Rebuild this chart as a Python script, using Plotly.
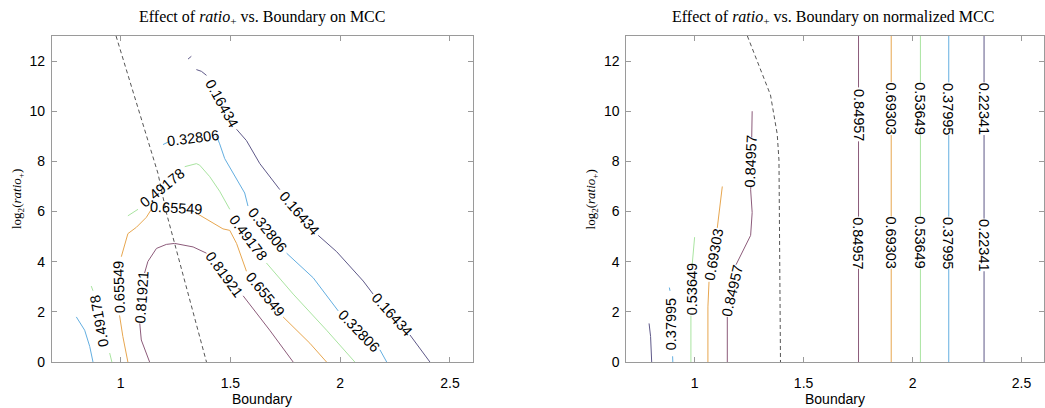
import plotly.graph_objects as go

# ---------------- data ----------------
# Left panel: MCC contours, each a list of segments (broken where MATLAB put labels)
mcc_levels = ["0.16434", "0.32806", "0.49178", "0.65549", "0.81921"]

mcc_016_x = [[1.345, 1.368, 1.391], [1.528, 1.573, 1.634, 1.725], [1.900, 1.984, 2.105, 2.150], [2.318, 2.409], [1.307, 1.322]]
mcc_016_y = [[11.66, 11.59, 11.43], [9.28, 8.83, 7.91, 6.875], [5.05, 4.40, 3.23, 2.71], [1.08, 0.0], [12.08, 12.19]]
mcc_016_lab = [(1.460, 10.33, 61), (1.812, 5.93, 49), (2.234, 1.91, 48)]

mcc_033_x = [[1.193, 1.223], [1.436, 1.451, 1.474, 1.512, 1.565, 1.580], [1.756, 1.877, 1.991], [2.181, 2.212],
             [0.798, 0.836, 0.859, 0.874]]
mcc_033_y = [[8.67, 8.80], [9.02, 8.70, 8.11, 7.52, 6.74, 6.22], [4.34, 3.36, 2.04], [0.49, 0.0],
             [1.80, 1.27, 0.625, 0.0]]
mcc_033_lab = [(1.330, 8.92, -7), (1.668, 5.25, 51), (2.086, 1.25, 46)]

mcc_049_x = [[1.033, 1.079], [1.292, 1.345, 1.360, 1.406, 1.451, 1.497], [1.664, 1.786, 1.938, 2.067],
             [0.866, 0.874], [0.950, 0.960]]
mcc_049_y = [[5.83, 6.09], [7.79, 7.91, 7.85, 7.39, 6.81, 6.09], [3.95, 2.71, 1.27, 0.0],
             [3.03, 2.84], [0.36, 0.0]]
mcc_049_lab = [(1.188, 6.95, -39), (1.582, 4.95, 53), (0.905, 1.62, -100)]

mcc_066_x = [[1.033, 1.010, 0.995], [1.003, 1.033, 1.072, 1.117, 1.140], [1.352, 1.466, 1.497, 1.528, 1.573],
             [1.740, 1.862, 1.938]]
mcc_066_y = [[0.0, 1.02, 1.86], [4.20, 5.12, 5.375, 5.77, 6.09], [5.90, 5.31, 5.25, 4.73, 3.62],
             [1.80, 0.75, 0.0]]
mcc_066_lab = [(0.993, 2.99, -92), (1.250, 6.15, 3), (1.657, 2.70, 51)]

mcc_082_x = [[1.132, 1.094, 1.087], [1.109, 1.124, 1.163, 1.208, 1.246, 1.330, 1.391], [1.558, 1.679, 1.786]]
mcc_082_y = [[0.0, 0.88, 1.54], [3.55, 4.01, 4.53, 4.69, 4.73, 4.59, 4.34], [2.64, 1.27, 0.0]]
mcc_082_lab = [(1.098, 2.58, -86), (1.470, 3.50, 54)]

mcc_dash_x = [0.979, 1.075, 1.170, 1.208, 1.246, 1.320, 1.391]
mcc_dash_y = [13.0, 10.25, 7.52, 5.96, 4.73, 2.40, 0.0]

# Right panel: normalized MCC contours
norm_levels = ["0.22341", "0.37995", "0.53649", "0.69303", "0.84957"]

norm_022_x = [[0.791, 0.798, 0.803], [2.328, 2.328], [2.328, 2.328], [2.328, 2.328]]
norm_022_y = [[1.54, 1.02, 0.0], [0.0, 3.62], [5.72, 9.05], [11.15, 13.0]]
norm_022_lab = [(2.328, 10.10, 90), (2.328, 4.66, 90)]

norm_038_x = [[0.884, 0.887], [0.899, 0.900], [2.166, 2.166], [2.166, 2.166], [2.166, 2.166]]
norm_038_y = [[2.97, 2.84], [0.23, 0.0], [0.0, 3.72], [5.80, 9.05], [11.15, 13.0]]
norm_038_lab = [(0.893, 1.52, -90), (2.166, 10.10, 90), (2.166, 4.76, 90)]

norm_054_x = [[1.000, 0.989], [0.983, 0.983], [2.036, 2.036], [2.036, 2.036], [2.036, 2.036]]
norm_054_y = [[4.98, 3.90], [1.85, 0.0], [0.0, 3.72], [5.80, 9.05], [11.15, 13.0]]
norm_054_lab = [(0.988, 2.90, -90), (2.036, 10.10, 90), (2.036, 4.76, 90)]

norm_069_x = [[1.127, 1.112, 1.104], [1.066, 1.061, 1.061], [1.902, 1.902], [1.902, 1.902], [1.902, 1.902]]
norm_069_y = [[7.00, 5.96, 5.35], [3.20, 2.20, 0.0], [0.0, 3.72], [5.80, 9.05], [11.15, 13.0]]
norm_069_lab = [(1.088, 4.27, -80), (1.902, 10.10, 90), (1.902, 4.76, 90)]

norm_085_x = [[1.264, 1.262], [1.258, 1.257, 1.264, 1.257, 1.190], [1.150, 1.150],
              [1.752, 1.752], [1.752, 1.752], [1.752, 1.752]]
norm_085_y = [[10.0, 8.95], [7.00, 6.875, 5.96, 5.05, 3.88], [1.80, 0.0],
              [0.0, 3.72], [5.80, 8.80], [10.95, 13.0]]
norm_085_lab = [(1.257, 7.98, -88), (1.172, 2.84, -77), (1.752, 9.87, 90), (1.752, 4.76, 90)]

norm_dash_x = [1.242, 1.287, 1.348, 1.379, 1.387, 1.394]
norm_dash_y = [13.0, 12.02, 10.65, 9.09, 8.05, 0.0]

level_colors = ["#5e5888", "#63aee0", "#a9e4a0", "#e7a64f", "#8c5b7a"]

x_ticks = [1, 1.5, 2, 2.5]
y_ticks = [0, 2, 4, 6, 8, 10, 12]
x_range = [0.687, 2.603]
y_range = [0, 13]

# ---------------- figure ----------------
fig = go.Figure()
annotations = []
LABEL_FONT = dict(family="Liberation Sans, Arial, sans-serif", size=14.5, color="black")


def add_contour(xs_list, ys_list, labels, text, color, xa, ya, dash=None):
    X, Y = [], []
    for xs, ys in zip(xs_list, ys_list):
        X += list(xs) + [None]
        Y += list(ys) + [None]
    fig.add_trace(go.Scatter(x=X, y=Y, mode="lines", xaxis=xa, yaxis=ya,
                             line=dict(color=color, width=1, dash=dash),
                             hoverinfo="skip", showlegend=False))
    for (lx, ly, ang) in labels:
        annotations.append(dict(x=lx, y=ly, xref=xa, yref=ya, text=text, textangle=ang,
                                showarrow=False, xanchor="center", yanchor="middle",
                                font=LABEL_FONT))


mcc_sets = [(mcc_016_x, mcc_016_y, mcc_016_lab), (mcc_033_x, mcc_033_y, mcc_033_lab),
            (mcc_049_x, mcc_049_y, mcc_049_lab), (mcc_066_x, mcc_066_y, mcc_066_lab),
            (mcc_082_x, mcc_082_y, mcc_082_lab)]
for (xs, ys, lab), txt, col in zip(mcc_sets, mcc_levels, level_colors):
    add_contour(xs, ys, lab, txt, col, "x", "y")
fig.add_trace(go.Scatter(x=mcc_dash_x, y=mcc_dash_y, mode="lines", xaxis="x", yaxis="y",
                         line=dict(color="#555555", width=1, dash="4px,3px"),
                         hoverinfo="skip", showlegend=False))

norm_sets = [(norm_022_x, norm_022_y, norm_022_lab), (norm_038_x, norm_038_y, norm_038_lab),
             (norm_054_x, norm_054_y, norm_054_lab), (norm_069_x, norm_069_y, norm_069_lab),
             (norm_085_x, norm_085_y, norm_085_lab)]
for (xs, ys, lab), txt, col in zip(norm_sets, norm_levels, level_colors):
    add_contour(xs, ys, lab, txt, col, "x2", "y2")
fig.add_trace(go.Scatter(x=norm_dash_x, y=norm_dash_y, mode="lines", xaxis="x2", yaxis="y2",
                         line=dict(color="#555555", width=1, dash="4px,3px"),
                         hoverinfo="skip", showlegend=False))

W, H = 1045, 408
left_dom = [52 / W, 473 / W]
right_dom = [627 / W, 1.0]
y_dom = [(H - 369.3) / H, (H - 36.7) / H]

TICK_FONT = dict(family="Liberation Sans, Arial, sans-serif", size=14, color="black")
axis_common = dict(showgrid=False, zeroline=False, showline=True, linecolor="#9a9a9a", linewidth=1,
                   mirror="ticks", ticks="inside", ticklen=5, tickcolor="#9a9a9a", tickwidth=1,
                   tickfont=TICK_FONT)

fig.update_layout(
    width=W, height=H, margin=dict(l=0, r=0, t=0, b=0),
    paper_bgcolor="white", plot_bgcolor="white",
    xaxis=dict(domain=left_dom, range=x_range, tickvals=x_ticks, anchor="y", ticklabelstandoff=8, **axis_common),
    yaxis=dict(domain=y_dom, range=y_range, tickvals=y_ticks, anchor="x", ticklabelstandoff=3, **axis_common),
    xaxis2=dict(domain=right_dom, range=x_range, tickvals=x_ticks, anchor="y2", ticklabelstandoff=8, **axis_common),
    yaxis2=dict(domain=y_dom, range=y_range, tickvals=y_ticks, anchor="x2", ticklabelstandoff=3, **axis_common),
)

SERIF = "Liberation Serif, Times New Roman, serif"
titles = [
    ("Effect of <i>ratio</i><sub>+</sub> vs. Boundary on MCC", 262.5),
    ("Effect of <i>ratio</i><sub>+</sub> vs. Boundary on normalized MCC", 834),
]
for t, cx in titles:
    annotations.append(dict(x=cx / W, y=1 - 18 / H, xref="paper", yref="paper", text=t,
                            showarrow=False, xanchor="center", yanchor="middle",
                            font=dict(family=SERIF, size=16, color="black")))
for cx in (262.5, 836):
    annotations.append(dict(x=cx / W, y=0, xref="paper", yref="paper", text="Boundary",
                            showarrow=False, xanchor="center", yanchor="bottom", yshift=-9,
                            font=dict(family="Liberation Sans, Arial, sans-serif", size=14, color="black")))
for cx in (17, 592):
    annotations.append(dict(x=cx / W, y=1 - 203 / H, xref="paper", yref="paper",
                            text="log<sub>2</sub>(<i>ratio</i><sub>+</sub>)", textangle=-90,
                            showarrow=False, xanchor="center", yanchor="middle",
                            font=dict(family=SERIF, size=13, color="black")))

fig.update_layout(annotations=annotations)
fig.write_html("out.html")
